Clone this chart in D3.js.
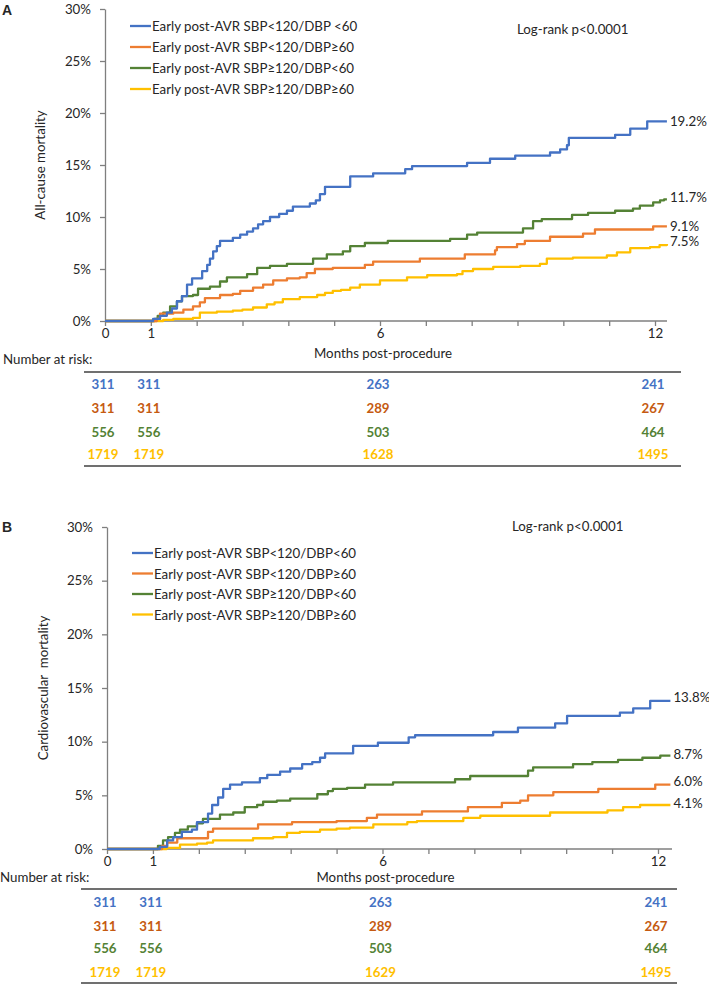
<!DOCTYPE html>
<html><head><meta charset="utf-8">
<script src="https://cdn.jsdelivr.net/npm/d3@7"></script>
<style>
body{margin:0;background:#fff}
text{font-family:Lato,"Open Sans",sans-serif;fill:#262626}
</style>
</head><body>
<svg id="chart" width="709" height="984"></svg>
<script>
// ---------- data ----------
const legendLabelsA = ["Early post-AVR SBP<120/DBP <60","Early post-AVR SBP<120/DBP\u226560","Early post-AVR SBP\u2265120/DBP<60","Early post-AVR SBP\u2265120/DBP\u226560"];
const legendLabelsB = ["Early post-AVR SBP<120/DBP<60","Early post-AVR SBP<120/DBP\u226560","Early post-AVR SBP\u2265120/DBP<60","Early post-AVR SBP\u2265120/DBP\u226560"];
const yTicks = [0,5,10,15,20,25,30];
const xTicks = [0,1,2,3,4,5,6,7,8,9,10,11,12];
const xTickLabels = [0,1,6,12];
const riskTimes = [0,1,6,12];
const riskA = [[311,311,263,241],[311,311,289,267],[556,556,503,464],[1719,1719,1628,1495]];
const riskB = [[311,311,263,241],[311,311,289,267],[556,556,503,464],[1719,1719,1629,1495]];
const endLabelsA = ["19.2%","11.7%","9.1%","7.5%"];
const endLabelsB = ["13.8%","8.7%","6.0%","4.1%"];

// all-cause mortality (months, %)
const aBlue = [[0,0],[1.05,0.2],[1.2,0.5],[1.35,0.8],[1.46,1.2],[1.57,1.9],[1.68,2.4],[1.79,3.5],[1.9,4.1],[2.12,4.8],[2.23,5.4],[2.29,6.0],[2.36,6.7],[2.44,7.2],[2.51,7.7],[2.79,8.0],[2.95,8.3],[3.1,8.6],[3.23,8.9],[3.34,9.3],[3.45,9.6],[3.6,10.0],[3.8,10.3],[3.97,10.6],[4.1,11.0],[4.47,11.3],[4.6,11.6],[4.69,12.2],[4.8,12.9],[5.35,13.9],[5.85,14.2],[6.55,14.6],[6.7,14.9],[7.9,15.2],[8.4,15.6],[8.95,15.9],[9.71,16.2],[9.93,16.5],[10.08,16.9],[10.12,17.6],[11.13,17.9],[11.46,18.5],[11.83,19.2],[12.26,19.2]];
const aOrange = [[0,0],[1.13,0.2],[1.2,0.7],[1.49,0.8],[1.71,1.1],[1.92,1.4],[2.07,1.8],[2.18,2.2],[2.51,2.5],[2.79,2.6],[2.95,2.9],[3.23,3.2],[3.45,3.5],[3.67,3.9],[3.97,4.1],[4.25,4.2],[4.4,4.6],[4.58,5.0],[4.97,5.1],[5.67,5.4],[5.85,5.7],[6.87,6.0],[7.85,6.4],[8.51,6.8],[8.55,7.1],[8.99,7.4],[9.16,7.7],[9.71,8.1],[10.43,8.4],[10.69,8.8],[11.96,9.1],[12.26,9.1]];
const aGreen = [[0,0],[1.08,0.2],[1.15,0.5],[1.27,0.8],[1.42,1.4],[1.57,1.9],[1.68,2.4],[1.92,2.5],[2.03,3.1],[2.29,3.3],[2.51,3.8],[2.66,4.2],[3.1,4.5],[3.32,5.1],[3.6,5.3],[3.97,5.5],[4.54,6.0],[4.84,6.4],[5.19,6.7],[5.35,7.2],[5.67,7.5],[6.17,7.7],[7.53,7.9],[7.9,8.3],[8.12,8.5],[9.12,8.9],[9.34,9.6],[9.53,9.8],[10.19,10.2],[10.54,10.4],[11.13,10.6],[11.52,10.8],[11.67,11.1],[11.96,11.4],[12.11,11.6],[12.2,11.7],[12.26,11.7]];
const aYellow = [[0,0],[1.27,0.1],[1.49,0.2],[1.92,0.3],[2.07,0.8],[2.44,0.9],[2.79,1.0],[3.0,1.1],[3.23,1.3],[3.53,1.6],[3.7,1.8],[3.88,2.1],[4.25,2.3],[4.63,2.5],[4.8,2.7],[4.97,2.9],[5.15,3.0],[5.35,3.2],[5.56,3.5],[6.0,3.9],[6.59,4.2],[7.03,4.4],[7.68,4.5],[7.8,4.8],[8.03,5.0],[8.47,5.2],[9.06,5.3],[9.49,5.5],[9.64,6.0],[10.21,6.1],[10.95,6.3],[11.17,6.6],[11.46,7.0],[11.89,7.1],[12.1,7.3],[12.26,7.4]];

// cardiovascular mortality (months, %)
const bBlue = [[0,0],[1.15,0.2],[1.31,0.8],[1.44,1.1],[1.63,1.6],[1.85,1.8],[1.96,2.5],[2.2,3.3],[2.29,4.1],[2.42,4.8],[2.53,5.6],[2.68,6.0],[2.94,6.2],[3.33,6.6],[3.49,6.9],[3.77,7.2],[3.99,7.5],[4.25,7.9],[4.47,8.1],[4.64,8.5],[4.75,8.9],[5.36,9.6],[5.9,9.9],[6.57,10.4],[6.71,10.6],[8.41,10.9],[8.95,11.3],[9.76,11.7],[10.02,12.4],[11.17,12.7],[11.46,13.1],[11.83,13.8],[12.27,13.8]];
const bOrange = [[0,0],[1.2,0.3],[1.31,0.6],[1.53,1.0],[2.2,1.6],[2.31,1.9],[3.29,2.3],[4.03,2.5],[5.0,2.6],[5.66,2.9],[5.88,3.2],[6.86,3.5],[7.86,3.9],[8.6,4.3],[9.0,4.5],[9.17,5.0],[9.72,5.3],[10.7,5.6],[11.94,6.0],[12.27,6.0]];
const bGreen = [[0,0],[1.11,0.3],[1.22,0.8],[1.33,1.1],[1.48,1.5],[1.59,1.8],[1.76,2.1],[1.96,2.4],[2.09,2.8],[2.46,3.2],[2.75,3.4],[3.0,3.9],[3.27,4.1],[3.4,4.4],[3.7,4.5],[3.99,4.7],[4.58,5.1],[4.81,5.4],[4.92,5.6],[5.23,5.7],[5.62,6.0],[6.23,6.2],[7.58,6.5],[7.91,6.8],[9.17,7.3],[9.28,7.6],[10.15,7.9],[10.57,8.1],[11.13,8.3],[11.66,8.5],[12.05,8.7],[12.27,8.7]];
const bYellow = [[0,0],[1.3,0.1],[1.59,0.4],[1.96,0.5],[2.18,0.6],[2.31,0.8],[3.18,1.0],[3.62,1.1],[3.92,1.5],[4.2,1.6],[4.64,1.8],[5.0,1.9],[5.29,2.0],[5.8,2.3],[6.54,2.5],[6.75,2.6],[7.76,2.9],[8.13,3.1],[9.65,3.4],[10.9,3.6],[11.24,3.9],[11.61,4.1],[12.27,4.1]];

// ---------- styles ----------
const lineColors = ["#4472C4","#ED7D31","#548235","#FFC000"];
const riskColors = ["#4472C4","#C55A11","#548235","#FFC000"];
const FS = "13.3px";

const svg = d3.select("#chart");

function drawPanel(p){
  const x = d3.scaleLinear().domain([0,12]).range(p.xr);
  const y = d3.scaleLinear().domain([0,30]).range(p.yr);
  const g = svg.append("g");

  // panel letter
  g.append("text").attr("x",2).attr("y",p.letterY).attr("dominant-baseline","central")
    .style("font-family","Arial, Liberation Sans, sans-serif").style("font-weight","bold").style("font-size","14px").text(p.letter);

  // y axis
  const ya = g.append("g").attr("transform",`translate(${p.xr[0]},0)`)
    .call(d3.axisLeft(y).tickValues(yTicks).tickFormat(d=>d+"%").tickSize(5).tickPadding(9).tickSizeOuter(0));
  ya.selectAll("path,line").attr("stroke","#7f7f7f").attr("stroke-width",1.3);
  ya.selectAll("text").style("font-size",FS).style("font-family","Lato,sans-serif").attr("fill","#262626");

  // x axis
  const xa = g.append("g").attr("transform",`translate(0,${p.yr[0]})`)
    .call(d3.axisBottom(x).tickValues(xTicks).tickFormat(d=>xTickLabels.includes(d)?d:"").tickSize(5).tickPadding(3).tickSizeOuter(0));
  xa.select(".domain").remove();
  xa.append("line").attr("x1",p.xr[0]).attr("x2",p.axisEnd).attr("stroke","#7f7f7f").attr("stroke-width",1.3);
  xa.selectAll(".tick line").attr("stroke","#7f7f7f").attr("stroke-width",1.3);
  xa.selectAll("text").style("font-size",FS).style("font-family","Lato,sans-serif").attr("fill","#262626");

  // y title
  g.append("text").attr("transform",`translate(${p.yTitleX},${(p.yr[0]+p.yr[1])/2}) rotate(-90)`)
    .attr("text-anchor","middle").attr("dominant-baseline","central").style("font-size",FS).style("white-space","pre")
    .attr("xml:space","preserve").text(p.yTitle);

  // x title
  g.append("text").attr("x",x(6)+3).attr("y",p.xTitleY).attr("text-anchor","middle").attr("dominant-baseline","central")
    .style("font-size",FS).text("Months post-procedure");

  // curves
  const line = d3.line().x(d=>x(d[0])).y(d=>y(d[1])).curve(d3.curveStepAfter);
  p.series.slice().reverse().forEach((s,i)=>{
    const idx = p.series.length-1-i;
    g.append("path").datum(s).attr("d",line).attr("fill","none")
      .attr("stroke",lineColors[idx]).attr("stroke-width",2.3).attr("stroke-linejoin","round");
  });

  // end labels
  p.endLabels.forEach((t,i)=>{
    const last = p.series[i][p.series[i].length-1];
    g.append("text").attr("x",x(last[0])+3).attr("y",y(parseFloat(t))+p.endDy[i])
      .attr("dominant-baseline","central").style("font-size",FS).text(t);
  });

  // legend
  p.legend.forEach((t,i)=>{
    const ly = p.legendY + i*p.legendStep;
    g.append("line").attr("x1",p.legendX).attr("x2",p.legendX+21).attr("y1",ly).attr("y2",ly)
      .attr("stroke",lineColors[i]).attr("stroke-width",2.3);
    g.append("text").attr("x",p.legendX+22).attr("y",ly).attr("dominant-baseline","central")
      .style("font-size",FS).text(t);
  });

  // log-rank
  g.append("text").attr("x",p.logX).attr("y",p.logY).attr("dominant-baseline","central")
    .style("font-size",FS).text("Log-rank p<0.0001");

  // risk table
  g.append("text").attr("x",p.nrX).attr("y",p.nrY).attr("dominant-baseline","central")
    .style("font-size",FS).text("Number at risk:");
  [p.tableTop,p.tableBottom].forEach(ty=>{
    g.append("line").attr("x1",p.tableX[0]).attr("x2",p.tableX[1]).attr("y1",ty).attr("y2",ty)
      .attr("stroke","#404040").attr("stroke-width",1.5);
  });
  p.risk.forEach((row,i)=>{
    row.forEach((v,j)=>{
      g.append("text").attr("x",x(riskTimes[j])-2).attr("y",p.rowY[i]).attr("text-anchor","middle")
        .attr("dominant-baseline","central").style("font-size",FS).style("font-weight","bold")
        .attr("fill",riskColors[i]).style("fill",riskColors[i]).text(v);
    });
  });
}

drawPanel({
  letter:"A", letterY:10,
  xr:[105,655], yr:[321,9], axisEnd:667,
  yTitle:"All-cause mortality", yTitleX:40, xTitleY:353,
  series:[aBlue,aOrange,aGreen,aYellow], endLabels:endLabelsA, endDy:[0,-2,0,-2],
  legend:legendLabelsA, legendX:130, legendY:26, legendStep:21,
  logX:517, logY:29,
  nrX:3, nrY:359, tableTop:372, tableBottom:466, tableX:[84,681],
  risk:riskA, rowY:[384,408,432,454]
});
drawPanel({
  letter:"B", letterY:527,
  xr:[107,658], yr:[849,527], axisEnd:672,
  yTitle:"Cardiovascular  mortality", yTitleX:43, xTitleY:877,
  series:[bBlue,bOrange,bGreen,bYellow], endLabels:endLabelsB, endDy:[-4,-2,-4,-2],
  legend:legendLabelsB, legendX:132, legendY:553, legendStep:20.5,
  logX:512, logY:526,
  nrX:0, nrY:877, tableTop:889, tableBottom:983, tableX:[81,677],
  risk:riskB, rowY:[902,926,948,972]
});
</script>
</body></html>
